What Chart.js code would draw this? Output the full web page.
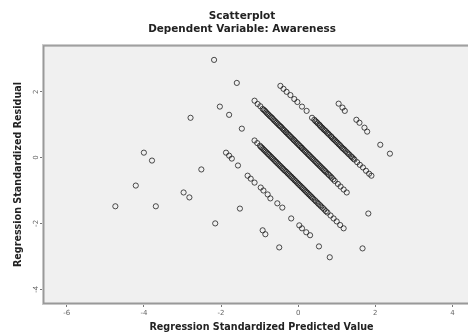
<!DOCTYPE html>
<html>
<head>
<meta charset="utf-8">
<script src="https://cdn.jsdelivr.net/npm/chart.js@4/dist/chart.umd.min.js"></script>
<style>
  html, body { margin: 0; padding: 0; background: #fff; overflow: hidden; }
  #wrap { width: 484px; height: 336px; }
</style>
</head>
<body>
<div id="wrap"><canvas id="scatterChart" width="484" height="336"></canvas></div>
<script>
// [predicted, residual] pairs
const scatteredPoints = [
    [-2.18, 2.97], [-1.59, 2.27], [-2.03, 1.55], [-1.79, 1.30], [-2.79, 1.21],
    [-1.46, 0.88], [-4.00, 0.15], [-3.79, -0.09], [-4.21, -0.85], [-2.51, -0.36],
    [-4.74, -1.48], [-3.69, -1.48], [-2.97, -1.06], [-2.82, -1.21], [-2.15, -2.00],
    [-1.51, -1.55], [-0.92, -2.21], [-0.85, -2.33], [-0.49, -2.73], [1.82, -1.70],
    [1.67, -2.76]
];
const rightBand = [
    [1.05, 1.64], [1.15, 1.52], [1.21, 1.42], [1.51, 1.15], [1.59, 1.06],
    [1.72, 0.91], [1.79, 0.79], [2.13, 0.39], [2.38, 0.12]
];
const upperBand = [
    [-0.46, 2.18], [-0.38, 2.09], [-0.30, 2.00], [-0.20, 1.90], [-0.10, 1.78],
    [-0.02, 1.69], [0.10, 1.55], [0.22, 1.42], [0.36, 1.21], [0.42, 1.15],
    [0.48, 1.08], [0.55, 1.00], [0.60, 0.93], [0.66, 0.86], [0.72, 0.80],
    [0.78, 0.73], [0.85, 0.65], [0.90, 0.58], [0.96, 0.52], [1.02, 0.45],
    [1.08, 0.38], [1.14, 0.30], [1.20, 0.24], [1.27, 0.16], [1.33, 0.09],
    [1.40, 0.01], [1.46, -0.06], [1.53, -0.14], [1.60, -0.22], [1.68, -0.30],
    [1.76, -0.40], [1.84, -0.49], [1.90, -0.55],
    [0.45, 1.11], [0.51, 1.04], [0.57, 0.97], [0.63, 0.90], [0.69, 0.83],
    [0.75, 0.76], [0.81, 0.69], [0.87, 0.62], [0.93, 0.55], [0.99, 0.48],
    [1.05, 0.41], [1.11, 0.34], [1.17, 0.27], [1.23, 0.20], [1.30, 0.12],
    [1.37, 0.04], [1.43, -0.03]
];
const middleBand = [
    [-1.13, 1.73], [-1.05, 1.63], [-0.98, 1.56], [-0.92, 1.48], [-0.86, 1.42],
    [-0.80, 1.34], [-0.74, 1.27], [-0.68, 1.21], [-0.62, 1.13], [-0.56, 1.06],
    [-0.50, 0.99], [-0.44, 0.93], [-0.38, 0.85], [-0.32, 0.78], [-0.27, 0.72],
    [-0.21, 0.65], [-0.15, 0.58], [-0.10, 0.52], [-0.04, 0.45], [0.02, 0.38],
    [0.08, 0.31], [0.13, 0.25], [0.19, 0.18], [0.25, 0.11], [0.31, 0.04],
    [0.37, -0.03], [0.43, -0.10], [0.49, -0.17], [0.55, -0.24], [0.61, -0.31],
    [0.67, -0.38], [0.73, -0.45], [0.80, -0.53], [0.87, -0.61], [0.95, -0.71],
    [1.03, -0.80], [1.10, -0.88], [1.18, -0.97], [1.26, -1.06],
    [-0.89, 1.45], [-0.83, 1.38], [-0.77, 1.31], [-0.71, 1.24], [-0.65, 1.17],
    [-0.59, 1.10], [-0.53, 1.03], [-0.47, 0.96], [-0.41, 0.89], [-0.35, 0.82],
    [-0.30, 0.76], [-0.24, 0.69], [-0.18, 0.62], [-0.12, 0.55], [-0.07, 0.49],
    [-0.01, 0.42], [0.05, 0.35], [0.10, 0.29], [0.16, 0.22], [0.22, 0.15],
    [0.28, 0.08], [0.34, 0.01], [0.40, -0.06], [0.46, -0.13], [0.52, -0.20],
    [0.58, -0.27], [0.64, -0.34], [0.70, -0.41], [0.77, -0.49], [0.84, -0.57],
    [0.91, -0.66]
];
const lowerBand = [
    [-1.13, 0.52], [-1.06, 0.44], [-0.99, 0.36], [-0.93, 0.29], [-0.87, 0.22],
    [-0.81, 0.15], [-0.75, 0.08], [-0.69, 0.01], [-0.63, -0.06], [-0.57, -0.13],
    [-0.51, -0.20], [-0.45, -0.27], [-0.39, -0.34], [-0.33, -0.41], [-0.27, -0.48],
    [-0.21, -0.55], [-0.15, -0.62], [-0.09, -0.69], [-0.03, -0.76], [0.03, -0.83],
    [0.09, -0.90], [0.15, -0.97], [0.21, -1.04], [0.27, -1.11], [0.33, -1.18],
    [0.39, -1.25], [0.46, -1.33], [0.53, -1.41], [0.60, -1.49], [0.68, -1.58],
    [0.76, -1.67], [0.84, -1.76], [0.92, -1.85], [1.00, -1.94], [1.09, -2.05],
    [1.18, -2.15],
    [-0.96, 0.32], [-0.90, 0.25], [-0.84, 0.18], [-0.78, 0.11], [-0.72, 0.04],
    [-0.66, -0.03], [-0.60, -0.10], [-0.54, -0.17], [-0.48, -0.24], [-0.42, -0.31],
    [-0.36, -0.38], [-0.30, -0.44], [-0.24, -0.51], [-0.18, -0.58], [-0.12, -0.65],
    [-0.06, -0.72], [0.00, -0.79], [0.06, -0.86], [0.12, -0.93], [0.18, -1.00],
    [0.24, -1.07], [0.30, -1.14], [0.36, -1.21], [0.43, -1.29], [0.50, -1.37],
    [0.57, -1.45], [0.64, -1.53], [0.72, -1.63]
];
const bottomBand = [
    [-1.87, 0.15], [-1.79, 0.06], [-1.72, -0.03], [-1.56, -0.24], [-1.31, -0.55],
    [-1.23, -0.64], [-1.13, -0.76], [-0.97, -0.91], [-0.90, -1.00], [-0.79, -1.12],
    [-0.72, -1.24], [-0.54, -1.39], [-0.41, -1.52], [-0.18, -1.85], [0.03, -2.06],
    [0.10, -2.15], [0.21, -2.27], [0.31, -2.36], [0.54, -2.70], [0.82, -3.03]
];

const xTicks = [-6, -4, -2, 0, 2, 4];
const yTicks = [-4, -2, 0, 2];

const allPoints = [].concat(scatteredPoints, rightBand, upperBand, middleBand, lowerBand, bottomBand)
    .map(p => ({ x: p[0], y: p[1] }));

const plotFrame = {
    id: 'plotFrame',
    beforeDraw(chart) {
        const { ctx, chartArea: a } = chart;
        ctx.save();
        ctx.fillStyle = '#fff';
        ctx.fillRect(0, 0, chart.width, chart.height);
        ctx.fillStyle = '#f0f0f0';
        ctx.fillRect(a.left, a.top, a.right - a.left, a.bottom - a.top);
        ctx.restore();
    },
    afterDraw(chart) {
        const { ctx, chartArea: a } = chart;
        ctx.save();
        ctx.strokeStyle = '#c8c8c8';
        ctx.lineWidth = 1;
        ctx.strokeRect(a.left - 1.5, a.top - 1.5, a.right - a.left + 3, a.bottom - a.top + 3);
        ctx.strokeStyle = '#999';
        ctx.lineWidth = 1.5;
        ctx.strokeRect(a.left - 0.25, a.top - 0.25, a.right - a.left + 0.5, a.bottom - a.top + 0.5);
        ctx.restore();
    }
};

const titleFont = { family: 'DejaVu Sans', weight: 'bold' };

new Chart(document.getElementById('scatterChart'), {
    type: 'scatter',
    data: {
        datasets: [{
            data: allPoints,
            pointStyle: 'circle',
            pointRadius: 2.6,
            pointBorderWidth: 1,
            pointBorderColor: 'rgba(20,20,20,0.75)',
            pointBackgroundColor: 'rgba(0,0,0,0)'
        }]
    },
    options: {
        responsive: false,
        animation: false,
        layout: { padding: 0 },
        scales: {
            x: {
                min: -6.59,
                max: 4.69,
                afterBuildTicks: s => { s.ticks = xTicks.map(v => ({ value: v })); },
                afterFit: s => { s.height = 33; },
                grid: { display: true, drawOnChartArea: false, drawTicks: true, tickLength: 4, tickColor: '#777', color: '#777' },
                border: { display: false },
                ticks: { padding: 2, color: '#666', font: { family: 'DejaVu Sans', size: 7 }, maxRotation: 0 },
                title: { display: true, text: 'Regression Standardized Predicted Value', color: '#222',
                         font: { ...titleFont, size: 9.6 }, padding: { top: 0, bottom: 3 } }
            },
            y: {
                min: -4.42,
                max: 3.39,
                afterBuildTicks: s => { s.ticks = yTicks.map(v => ({ value: v })); },
                afterFit: s => { s.width = 44; },
                grid: { display: true, drawOnChartArea: false, drawTicks: true, tickLength: 4, tickColor: '#777', color: '#777' },
                border: { display: false },
                ticks: { padding: 0, color: '#666', font: { family: 'DejaVu Sans', size: 7 },
                         minRotation: 90, maxRotation: 90, crossAlign: 'center' },
                title: { display: true, text: 'Regression Standardized Residual', color: '#222',
                         font: { ...titleFont, size: 9.6 }, padding: { top: 12.6, bottom: 0 } }
            }
        },
        plugins: {
            legend: { display: false },
            tooltip: { enabled: false },
            title: {
                display: true,
                text: 'Scatterplot',
                color: '#222',
                font: { ...titleFont, size: 10.5 },
                padding: { top: 10, bottom: 0 }
            },
            subtitle: {
                display: true,
                text: 'Dependent Variable: Awareness',
                color: '#222',
                font: { ...titleFont, size: 10.4 },
                padding: { top: 0, bottom: 11 }
            }
        }
    },
    plugins: [plotFrame]
});
</script>
</body>
</html>
